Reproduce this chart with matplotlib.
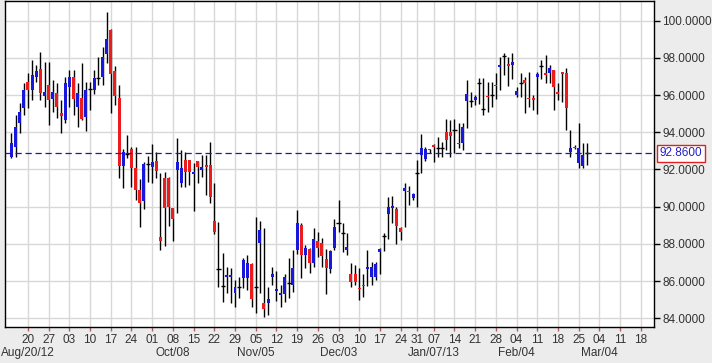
import matplotlib
matplotlib.use("Agg")
import matplotlib.pyplot as plt
import matplotlib.transforms as mtransforms
import numpy as np
import pandas as pd

plt.rcParams['font.family'] = ['Liberation Sans', 'DejaVu Sans']

# trading days shown on the axis (no weekends, no Dec 25 / Jan 1)
first_day = "2012-08-14"
last_axis_day = "2013-03-22"
holidays = ["2012-12-25", "2013-01-01"]

opens = [92.69, 93.23, 94.52, 95.32, 96.70, 96.27, 96.95, 97.40, 95.97, 96.54,
         95.77, 96.13, 95.04, 94.66, 96.42, 96.95, 95.38, 95.83, 94.84, 96.31,
         96.27, 96.90, 96.99, 98.21, 99.50, 97.31, 95.87, 92.21, 92.85, 93.08,
         92.06, 90.90, 90.32, 92.30, 92.15, 92.47, 88.35, 91.52, 91.52, 89.91,
         91.97, 91.29, 92.51, 92.51, 91.74, 92.44, 91.97, 92.24, 92.24, 89.23,
         86.63, 85.74, 86.20, 86.20, 85.34, 85.70, 86.15, 86.15, 86.92, 85.67,
         88.07, 84.80, 84.84, 86.20, 85.45, 85.25, 85.30, 85.88, 85.79, 87.67,
         89.02, 87.40, 87.70, 86.95, 88.16, 88.07, 87.17, 86.65, 87.76, 89.14,
         88.57, 87.67, 86.36, 86.36, 85.62, 85.80, 86.63, 86.24, 86.24, 87.56,
         88.42, 89.60, 89.91, 89.88, 88.83, 90.86, 90.84, 90.49, 91.79, 92.78,
         92.55, 93.10, 93.30, 93.14, 93.14, 94.03, 94.03, 94.12, 93.43, 93.44,
         95.68, 95.68, 95.74, 96.67, 95.24, 95.97, 96.00, 96.56, 97.50, 98.10,
         97.65, 97.62, 96.00, 96.67, 96.81, 95.85, 95.82, 96.95, 97.56, 97.20,
         97.20, 97.35, 96.15, 97.22, 97.20, 92.96, 93.22, 92.33, 92.19, 92.86]
highs = [93.98, 94.93, 95.56, 96.63, 97.17, 97.89, 97.62, 98.34, 97.80, 97.80,
         96.81, 96.63, 95.74, 96.99, 97.35, 97.35, 96.63, 97.74, 96.72, 96.72,
         97.35, 98.07, 98.60, 100.49, 99.55, 97.56, 96.55, 93.10, 93.85, 93.23,
         93.19, 91.50, 92.42, 92.72, 93.37, 92.96, 91.79, 91.88, 91.60, 89.95,
         93.68, 93.05, 92.96, 92.51, 92.33, 92.44, 92.78, 92.78, 93.50, 91.25,
         89.20, 87.49, 86.77, 86.70, 86.06, 86.24, 87.22, 87.40, 86.95, 89.46,
         89.25, 88.84, 85.70, 86.74, 86.56, 85.79, 86.38, 87.22, 87.67, 89.82,
         89.10, 87.94, 87.80, 88.84, 88.66, 88.30, 87.70, 87.67, 89.32, 90.36,
         89.10, 88.60, 86.95, 86.86, 86.69, 86.40, 87.67, 87.05, 87.05, 87.80,
         88.57, 90.54, 90.58, 90.00, 88.93, 91.29, 91.10, 90.72, 92.51, 93.91,
         93.19, 93.10, 93.37, 93.76, 93.50, 94.70, 94.66, 94.70, 94.48, 94.48,
         96.81, 96.18, 96.00, 96.90, 96.90, 96.72, 96.72, 97.17, 98.07, 98.24,
         98.07, 98.24, 96.45, 97.17, 96.99, 97.26, 96.00, 97.26, 97.89, 98.16,
         97.62, 97.35, 96.63, 97.22, 97.44, 94.12, 93.30, 94.52, 93.41, 93.41]
lows = [92.60, 92.69, 93.98, 94.93, 95.29, 95.74, 96.72, 95.74, 95.38, 94.39,
        95.11, 94.75, 93.94, 94.52, 95.38, 94.93, 94.27, 94.66, 94.09, 95.20,
        96.06, 96.54, 96.54, 97.71, 95.02, 95.47, 91.53, 90.99, 92.60, 91.08,
        90.36, 88.93, 89.86, 91.34, 91.26, 91.52, 87.67, 87.89, 88.96, 88.17,
        89.64, 91.08, 91.08, 91.17, 89.79, 91.26, 91.58, 90.63, 90.18, 88.53,
        85.70, 84.89, 85.34, 84.84, 84.62, 85.07, 85.61, 85.52, 84.62, 84.30,
        85.38, 84.09, 84.18, 85.79, 84.95, 84.59, 84.90, 85.07, 85.43, 87.46,
        86.15, 86.69, 86.42, 86.77, 87.28, 86.77, 85.31, 86.42, 87.67, 88.66,
        87.58, 87.40, 85.70, 85.79, 84.99, 85.16, 85.74, 85.79, 86.06, 86.40,
        87.64, 88.25, 89.10, 87.98, 88.20, 88.93, 90.10, 90.36, 90.00, 91.79,
        92.47, 92.87, 92.42, 92.69, 92.69, 93.05, 92.65, 92.87, 93.14, 93.05,
        94.21, 95.38, 95.47, 95.52, 94.93, 95.11, 95.38, 95.77, 96.27, 97.08,
        96.49, 96.85, 95.92, 95.92, 95.05, 95.38, 95.20, 94.98, 96.85, 96.67,
        96.63, 95.20, 95.74, 95.65, 94.12, 92.69, 93.10, 92.06, 92.06, 92.24]
closes = [93.41, 94.30, 95.07, 96.27, 96.27, 97.08, 97.31, 96.13, 96.16, 95.74,
          96.15, 95.38, 94.89, 96.63, 96.95, 95.77, 96.09, 94.70, 96.27, 96.31,
          96.90, 96.90, 98.03, 98.99, 97.14, 95.95, 92.21, 92.96, 92.85, 92.06,
          90.90, 90.18, 92.30, 92.30, 92.40, 91.94, 88.17, 89.91, 89.97, 89.34,
          92.42, 92.06, 91.88, 91.88, 91.88, 92.15, 92.11, 92.15, 90.50, 88.62,
          86.63, 85.74, 86.30, 86.30, 85.70, 85.70, 87.13, 86.95, 85.02, 85.67,
          88.75, 84.48, 85.02, 86.38, 85.59, 85.38, 86.20, 85.88, 86.69, 89.10,
          87.40, 87.76, 86.95, 88.25, 87.76, 87.35, 86.69, 87.62, 88.89, 89.14,
          88.57, 87.85, 85.97, 85.97, 85.58, 85.75, 86.77, 86.74, 86.92, 87.70,
          88.42, 90.00, 90.06, 88.98, 88.66, 91.02, 90.80, 90.66, 91.79, 93.14,
          93.08, 93.05, 93.26, 93.14, 93.14, 93.59, 93.80, 94.12, 93.35, 94.27,
          96.04, 95.68, 95.88, 96.67, 95.24, 95.93, 96.00, 96.52, 97.62, 98.10,
          97.60, 97.78, 96.24, 96.67, 96.67, 95.81, 95.78, 97.13, 97.56, 97.06,
          97.44, 96.45, 96.11, 97.17, 95.29, 93.14, 93.18, 93.14, 92.78, 92.86]

last_price = 92.86
y_ticks = [84, 86, 88, 90, 92, 94, 96, 98, 100]
month_label_days = ["2012-08-20", "2012-10-08", "2012-11-05", "2012-12-03",
                    "2013-01-07", "2013-02-04", "2013-03-04"]
month_labels = ["Aug/20/12", "Oct/08", "Nov/05", "Dec/03",
                "Jan/07/13", "Feb/04", "Mar/04"]

up_color = "#1818dc"
down_color = "#ec1c1c"

days = pd.bdate_range(first_day, last_axis_day, freq="C", holidays=holidays)
o = np.array(opens)
h = np.array(highs)
l = np.array(lows)
c = np.array(closes)
x = np.arange(len(o))

fig = plt.figure(figsize=(7.12, 3.63), dpi=100, facecolor="#ececec")
ax = fig.add_axes([5 / 712, 36 / 363, 649 / 712, 326 / 363])
ax.set_facecolor("white")

ax.vlines(x, l, h, color="black", lw=1, zorder=2)
up = c > o
down = c < o
flat = c == o
ax.bar(x[up], np.maximum(c - o, 0.07)[up], bottom=o[up], width=0.72,
       color=up_color, lw=0, zorder=3)
ax.bar(x[down], np.maximum(o - c, 0.07)[down], bottom=np.minimum(c, o - 0.07)[down],
       width=0.72, color=down_color, lw=0, zorder=3)
ax.hlines(c[flat], x[flat] - 0.5, x[flat] + 0.5, color="black", lw=1, zorder=3)

# last price line and box
ax.axhline(last_price, color="#1c1ca0", lw=0.9, dashes=(5, 3), zorder=4)
trans_y = mtransforms.blended_transform_factory(ax.transAxes, ax.transData)
ax.text(1.0085, last_price, f"{last_price:.4f}", transform=trans_y,
        ha="left", va="center", color="#2020c8", fontsize=8.5,
        bbox=dict(boxstyle="square,pad=0.2", fc="white", ec="#e02020", lw=1),
        clip_on=False, zorder=5)

# axes
ax.set_xlim(-1.55, 155.2)
ax.set_ylim(83.53, 101.06)

mondays = [i for i, d in enumerate(days)
           if d.weekday() == 0 and d >= pd.Timestamp("2012-08-20")]
ax.set_xticks(mondays)
ax.set_xticklabels([days[i].strftime("%d") for i in mondays])
ax.yaxis.tick_right()
ax.set_yticks(y_ticks)
ax.set_yticklabels([f"{v:.4f}" for v in y_ticks])

ax.tick_params(axis="y", direction="out", length=4, width=1, pad=2,
               labelsize=8.5, labelcolor="#333333")
ax.tick_params(axis="x", direction="out", length=3, width=1, color="#b06060",
               pad=2, labelsize=8.5, labelcolor="#333333")

ax.grid(True, color="#d8d8d8", lw=1)
ax.set_axisbelow(True)
for s in ax.spines.values():
    s.set_color("black")
    s.set_linewidth(1)

trans_x = mtransforms.blended_transform_factory(ax.transData, ax.transAxes)
for d, lab in zip(month_label_days, month_labels):
    pos = days.get_loc(pd.Timestamp(d))
    ax.text(pos, -0.079, lab, transform=trans_x, ha="center", va="center",
            fontsize=8.5, color="#333333", clip_on=False)

fig.savefig("out.png", dpi=100, facecolor=fig.get_facecolor())
